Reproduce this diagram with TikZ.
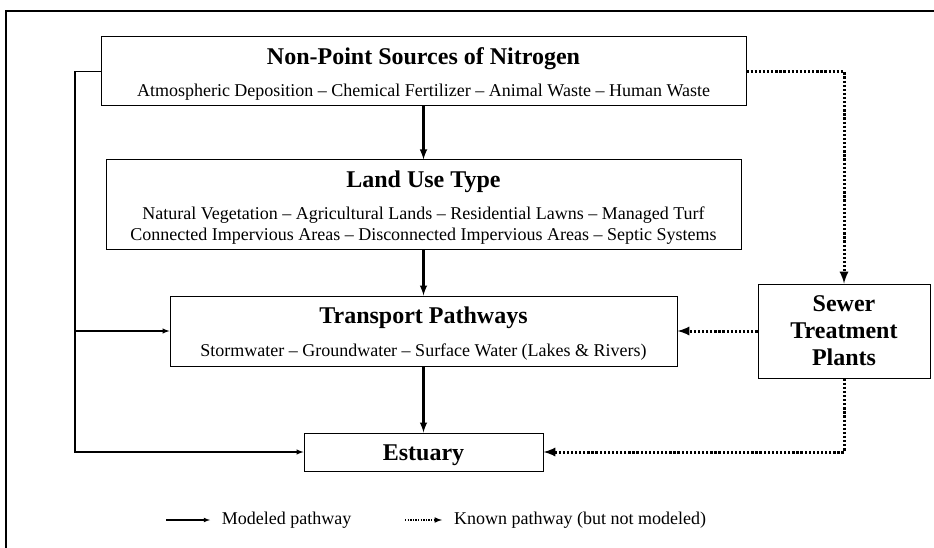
\documentclass[tikz,border=0pt]{standalone}
\usepackage{fontspec}
\setmainfont{Liberation Serif}
\usetikzlibrary{arrows}
\usetikzlibrary{calc}
\usetikzlibrary{positioning}

\newcommand{\ttl}[1]{{\fontsize{24}{27}\selectfont\bfseries\rule{0pt}{22pt}#1}}

\begin{document}
\begin{tikzpicture}[
  x = 1pt, y = -1pt,
  > = latex,
  box/.style = {draw,line width=1pt,rectangle,align=center,inner sep=0pt,
                font=\fontsize{18}{21}\selectfont},
  modeled/.style = {->,line width=1.4pt},
  mainflow/.style = {->,line width=2.4pt},
  known/.style = {->,line width=3pt,dash pattern=on 2.3pt off 1.8pt}
  ]
  \useasboundingbox (0,0) rectangle (934,548);
  \draw[line width=1.2pt] (6,548) -- (6,11) -- (934,11);

  \node[box,minimum width=645pt,minimum height=69pt] (src) at (423.5,71.5)
    {\ttl{Non-Point Sources of Nitrogen}\\[11pt]
     Atmospheric Deposition -- Chemical Fertilizer -- Animal Waste -- Human Waste};
  \node[box,minimum width=635pt,minimum height=89pt] (land) at (423.5,204.5)
    {\ttl{Land Use Type}\\[11pt]
     Natural Vegetation -- Agricultural Lands -- Residential Lawns -- Managed Turf\\
     Connected Impervious Areas -- Disconnected Impervious Areas -- Septic Systems};
  \node[box,minimum width=507pt,minimum height=70pt] (trans) at (423.5,331)
    {\ttl{Transport Pathways}\\[12pt]
     Stormwater -- Groundwater -- Surface Water (Lakes \& Rivers)};
  \node[box,minimum width=239pt,minimum height=38pt] (est) at (423.5,452)
    {\ttl{Estuary}};
  \node[box,minimum width=172pt,minimum height=94pt,
        font=\fontsize{24}{27}\selectfont\bfseries] (sewer) at (844,331)
    {Sewer\\ Treatment\\ Plants};

  \draw[mainflow] (src) -- (land);
  \draw[mainflow] (land) -- (trans);
  \draw[mainflow] (trans) -- (est);

  \coordinate (bend) at (75,71.5);
  \draw[modeled] (src.west) -- (bend) |- (est.west);
  \draw[modeled] (bend) |- (trans.west);

  \draw[known] (src.east) -| (sewer.north);
  \draw[known] (sewer.west) -- (trans.east);
  \draw[known] (sewer.south) |- (est.east);

  % legend
  \coordinate (lg1) at (166,520);
  \coordinate (lg2) at (210,520);
  \coordinate (lg3) at (405,520);
  \coordinate (lg4) at (442,520);
  \draw[->,line width=1.1pt] (lg1) -- (lg2) node[right=8pt] (lgmod) {\fontsize{18}{21}\selectfont Modeled pathway};
  \draw[->,line width=1.5pt,dash pattern=on 1.3pt off 1.3pt] (lg3) -- (lg4) node[right=8pt] (lgknown) {\fontsize{18}{21}\selectfont Known pathway (but not modeled)};
\end{tikzpicture}
\end{document}
